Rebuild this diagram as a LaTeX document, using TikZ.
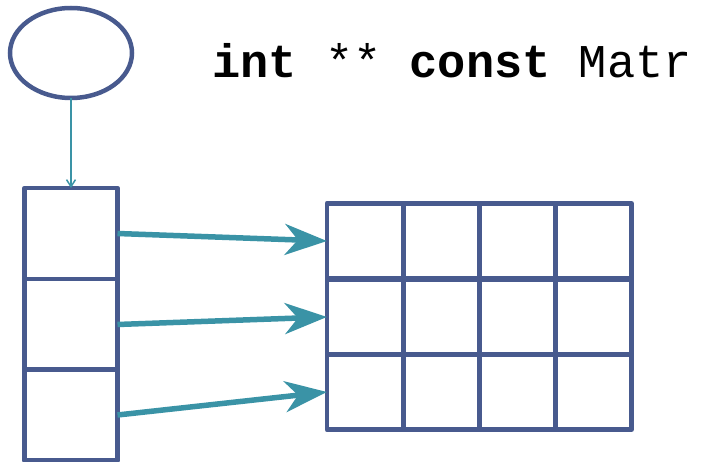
\documentclass[tikz,border=0pt]{standalone}
\usepackage{fontspec}
\setmonofont{Liberation Mono}
\usetikzlibrary{arrows.meta,shapes.geometric}
\definecolor{frame}{HTML}{485A8E}
\definecolor{teal}{HTML}{3A93A6}
\tikzset{
  box/.style={draw=frame, line width=4.5pt, line join=round, minimum width=93pt, minimum height=91pt, inner sep=0pt, outer sep=0pt},
  cell/.style={draw=frame, line width=4.5pt, line join=round, minimum width=76.25pt, minimum height=75.3pt, inner sep=0pt, outer sep=0pt},
  ptr/.style={draw=teal, line width=5.5pt, -{Stealth[length=42pt, width=31pt, inset=13pt]}},
  thinptr/.style={draw=teal, line width=1.5pt, -{Straight Barb[length=7pt, width=9pt]}}
}
\begin{document}
\begin{tikzpicture}[x=1pt, y=-1pt]
\useasboundingbox (0,0) rectangle (702,462);
\node[ellipse, draw=frame, line width=4.5pt, minimum width=122pt, minimum height=90pt, inner sep=0pt, outer sep=0pt] (p) at (71,53) {};
\node[anchor=base west, inner sep=0pt, font=\fontsize{47}{50}\selectfont\ttfamily] (t) at (212,78) {\textbf{int} ** \textbf{const} Matr};
\node[box] (c1) at (71,233.5) {};
\node[box] (c2) at (71,324.5) {};
\node[box] (c3) at (71,415) {};
\foreach \r/\y in {1/241,2/317,3/392}{
  \foreach \c/\x in {1/365,2/441.5,3/517.5,4/593.5}{
    \node[cell] (g\r\c) at (\x,\y) {};
  }
}
\draw[thinptr] (p.south) -- (c1.north);
\draw[ptr] (c1.east) -- (g11.west);
\draw[ptr] (c2.east) -- (g21.west);
\draw[ptr] (c3.east) -- (g31.west);
\end{tikzpicture}
\end{document}
